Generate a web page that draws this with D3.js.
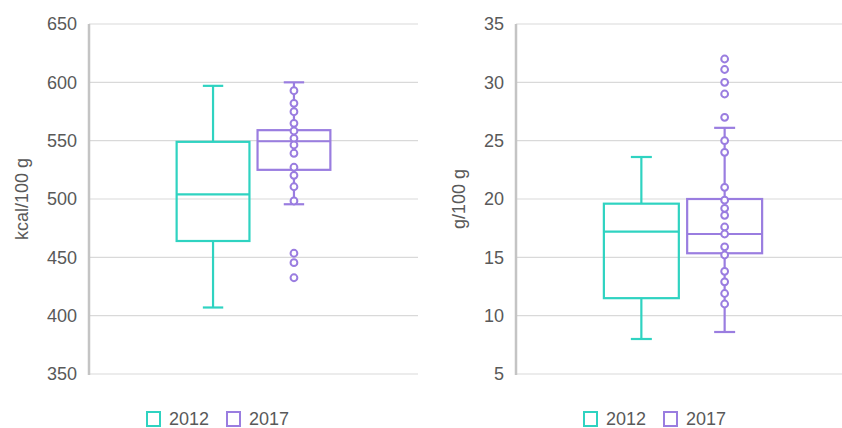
<!DOCTYPE html>
<html>
<head>
<meta charset="utf-8">
<script src="https://cdn.jsdelivr.net/npm/d3@7"></script>
<style>
  body { margin: 0; background: #fff; }
  text { font-family: "Liberation Sans", Arial, sans-serif; fill: #595959; }
</style>
</head>
<body>
<div class="canvas"></div>
<script>
// data
const years = ['2012', '2017']
const colors = ['#2fd3c1', '#9a7de0']

// [min whisker, q1, median, q3, max whisker]
const kcal2012 = [407, 464, 504, 549, 597]
const kcal2017 = [495.5, 525, 549.5, 559, 600]
const kcal2017Points = [592.8, 582, 574.8, 564.9, 558.3, 552, 546.3, 539.2, 527.2, 520.3, 510.5, 498.3, 453.5, 445.4, 432.5]
const kcalTicks = [350, 400, 450, 500, 550, 600, 650]

const gram2012 = [8, 11.5, 17.2, 19.6, 23.6]
const gram2017 = [8.6, 15.35, 17, 20, 26.1]
const gram2017Points = [32, 31.1, 30, 29, 27, 25, 24, 21, 19.9, 19.2, 18.6, 17.6, 17, 15.9, 15.2, 13.8, 12.9, 11.9, 11]
const gramTicks = [5, 10, 15, 20, 25, 30, 35]

const charts = [
  { left: 89, right: 418, label: 'kcal/100 g', labelX: 22, ticks: kcalTicks, pad: 0.57, shift: 0,
    boxes: [kcal2012, kcal2017], points: [[], kcal2017Points], legendX: 146 },
  { left: 516, right: 842, label: 'g/100 g', labelX: 459, ticks: gramTicks, pad: 0.53, shift: 4,
    boxes: [gram2012, gram2017], points: [[], gram2017Points], legendX: 583 }
]

const dims = { width: 842, height: 428, top: 24, bottom: 374 }

const svg = d3.select('.canvas')
  .append('svg')
  .attr('width', dims.width)
  .attr('height', dims.height)

charts.forEach(chart => {
  const w = chart.right - chart.left
  const g = svg.append('g')
    .attr('transform', `translate(${chart.left}, 0)`)

  const y = d3.scaleLinear()
    .domain(d3.extent(chart.ticks))
    .range([dims.bottom, dims.top])

  // one category, two series side by side
  const x0 = d3.scaleBand().domain(['all'])
    .range([chart.shift, w + chart.shift])
    .paddingInner(0).paddingOuter(chart.pad)
  const x1 = d3.scaleBand().domain(years)
    .range([x0('all'), x0('all') + x0.bandwidth()])
    .paddingInner(0.1)

  // gridlines
  g.selectAll('.grid')
    .data(chart.ticks)
    .enter()
    .append('line')
      .attr('class', 'grid')
      .attr('x1', 0)
      .attr('x2', w)
      .attr('y1', d => y(d))
      .attr('y2', d => y(d))
      .attr('stroke', '#d9d9d9')
      .attr('stroke-width', 1.2)

  // y axis
  const axis = g.append('g')
    .call(d3.axisLeft(y).tickValues(chart.ticks).tickSize(0).tickPadding(12))
  axis.select('.domain').remove()
  axis.selectAll('text')
    .style('font-size', '18px')
    .attr('fill', '#595959')

  g.append('line')
    .attr('x1', 0).attr('x2', 0)
    .attr('y1', y.range()[1]).attr('y2', y.range()[0] + 1)
    .attr('stroke', '#c4c4c4')
    .attr('stroke-width', 2.5)

  // axis title
  svg.append('text')
    .attr('transform', `translate(${chart.labelX}, ${(dims.top + dims.bottom) / 2}) rotate(-90)`)
    .attr('text-anchor', 'middle')
    .attr('dy', '0.35em')
    .style('font-size', '18px')
    .text(chart.label)

  // boxes
  years.forEach((year, i) => {
    const [lo, q1, med, q3, hi] = chart.boxes[i]
    const bx = x1(year)
    const bw = x1.bandwidth()
    const cx = bx + bw / 2
    const cap = bw * 0.14
    const col = colors[i]
    const box = g.append('g')
      .attr('fill', 'none')
      .attr('stroke', col)
      .attr('stroke-width', 2.2)

    box.append('line').attr('x1', cx).attr('x2', cx).attr('y1', y(hi)).attr('y2', y(q3))
    box.append('line').attr('x1', cx).attr('x2', cx).attr('y1', y(q1)).attr('y2', y(lo))
    box.append('line').attr('x1', cx - cap).attr('x2', cx + cap).attr('y1', y(hi)).attr('y2', y(hi))
    box.append('line').attr('x1', cx - cap).attr('x2', cx + cap).attr('y1', y(lo)).attr('y2', y(lo))
    box.append('rect')
      .attr('x', bx).attr('width', bw)
      .attr('y', y(q3)).attr('height', y(q1) - y(q3))
    box.append('line').attr('x1', bx).attr('x2', bx + bw).attr('y1', y(med)).attr('y2', y(med))

    box.selectAll('circle')
      .data(chart.points[i])
      .enter()
      .append('circle')
        .attr('cx', cx)
        .attr('cy', d => y(d))
        .attr('r', 3.4)
        .attr('fill', '#fff')
        .attr('stroke-width', 2)
  })

  // legend
  const legend = svg.append('g')
    .attr('transform', `translate(${chart.legendX}, 411)`)
  years.forEach((year, i) => {
    const item = legend.append('g').attr('transform', `translate(${i * 80}, 0)`)
    item.append('rect')
      .attr('x', 1).attr('y', 1)
      .attr('width', 13).attr('height', 14)
      .attr('fill', '#fff')
      .attr('stroke', colors[i])
      .attr('stroke-width', 2)
    item.append('text')
      .attr('x', 23)
      .attr('y', 8)
      .attr('dy', '0.36em')
      .style('font-size', '18px')
      .text(year)
  })
})
</script>
</body>
</html>
